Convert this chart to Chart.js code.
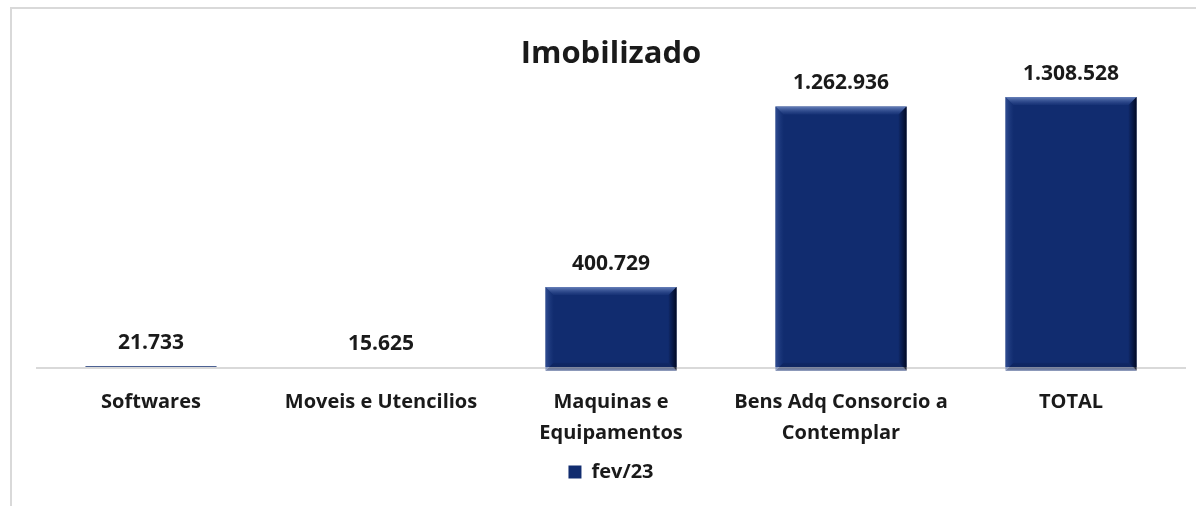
<!DOCTYPE html>
<html lang="pt-BR">
<head>
    <meta charset="UTF-8">
    <title>Imobilizado</title>
    <script src="https://cdn.jsdelivr.net/npm/chart.js"></script>
    <style>
        html, body { margin: 0; padding: 0; overflow: hidden; background: #fff; }
        #frame {
            position: absolute; left: 10px; top: 7px;
            width: 1400px; height: 700px;
            border: 2px solid #d9d9d9;
        }
        #wrap { position: absolute; left: 0; top: 0; width: 1196px; height: 506px; }
    </style>
</head>
<body>
    <div id="frame"></div>
    <div id="wrap"><canvas id="chart"></canvas></div>

    <script>
        // data
        const categories = [
            'Softwares',
            'Moveis e Utencilios',
            ['Maquinas e', 'Equipamentos'],
            ['Bens Adq Consorcio a', 'Contemplar'],
            'TOTAL'
        ];
        const seriesName = 'fev/23';
        const values = [21733, 15625, 400729, 1262936, 1308528];

        const barColor = '#112c6f';
        const fontFamily = '"Open Sans", "Noto Sans", sans-serif';

        function fmt(v) {
            return String(v).replace(/\B(?=(\d{3})+(?!\d))/g, '.');
        }

        // value labels above bars
        const valueLabels = {
            id: 'valueLabels',
            afterDatasetsDraw(chart) {
                const ctx = chart.ctx;
                const meta = chart.getDatasetMeta(0);
                ctx.save();
                ctx.font = 'bold 21px ' + fontFamily;
                ctx.fillStyle = '#1a1a1a';
                ctx.textAlign = 'center';
                ctx.textBaseline = 'middle';
                meta.data.forEach((bar, i) => {
                    const top = Math.min(bar.y, bar.base);
                    ctx.fillText(fmt(chart.data.datasets[0].data[i]), bar.x, top - 23);
                });
                ctx.restore();
            }
        };

        // axis line under the bars, spanning the category slots
        const baseLine = {
            id: 'baseLine',
            beforeDatasetsDraw(chart) {
                const { ctx, chartArea } = chart;
                const pts = chart.getDatasetMeta(0).data;
                const half = (pts[1].x - pts[0].x) / 2;
                ctx.save();
                ctx.strokeStyle = '#d9d9d9';
                ctx.lineWidth = 2;
                ctx.beginPath();
                ctx.moveTo(pts[0].x - half, chartArea.bottom + 1);
                ctx.lineTo(pts[pts.length - 1].x + half, chartArea.bottom + 1);
                ctx.stroke();
                ctx.restore();
            }
        };

        // simple bevel look on the bars
        const bevel = {
            id: 'bevel',
            afterDatasetDraw(chart) {
                const ctx = chart.ctx;
                const meta = chart.getDatasetMeta(0);
                ctx.save();
                meta.data.forEach(bar => {
                    const l = bar.x - bar.width / 2, r = bar.x + bar.width / 2;
                    const t = bar.y, b = bar.base;
                    const h = b - t;
                    if (h < 20) return;
                    const s = 8;
                    // top
                    let g = ctx.createLinearGradient(0, t, 0, t + s);
                    g.addColorStop(0, 'rgba(120,145,200,0.85)');
                    g.addColorStop(1, 'rgba(60,90,160,0.15)');
                    ctx.fillStyle = g;
                    ctx.beginPath();
                    ctx.moveTo(l, t); ctx.lineTo(r, t); ctx.lineTo(r - s, t + s); ctx.lineTo(l + s, t + s);
                    ctx.closePath(); ctx.fill();
                    // left
                    g = ctx.createLinearGradient(l, 0, l + s, 0);
                    g.addColorStop(0, 'rgba(70,100,170,0.6)');
                    g.addColorStop(1, 'rgba(40,70,140,0.05)');
                    ctx.fillStyle = g;
                    ctx.beginPath();
                    ctx.moveTo(l, t); ctx.lineTo(l + s, t + s); ctx.lineTo(l + s, b - s); ctx.lineTo(l, b);
                    ctx.closePath(); ctx.fill();
                    // right
                    g = ctx.createLinearGradient(r - s, 0, r, 0);
                    g.addColorStop(0, 'rgba(0,10,40,0.1)');
                    g.addColorStop(1, 'rgba(0,5,25,0.9)');
                    ctx.fillStyle = g;
                    ctx.beginPath();
                    ctx.moveTo(r, t); ctx.lineTo(r, b); ctx.lineTo(r - s, b - s); ctx.lineTo(r - s, t + s);
                    ctx.closePath(); ctx.fill();
                    // bottom
                    g = ctx.createLinearGradient(0, b - s, 0, b);
                    g.addColorStop(0, 'rgba(0,10,40,0.1)');
                    g.addColorStop(1, 'rgba(30,55,120,0.7)');
                    ctx.fillStyle = g;
                    ctx.beginPath();
                    ctx.moveTo(l, b); ctx.lineTo(r, b); ctx.lineTo(r - s, b - s); ctx.lineTo(l + s, b - s);
                    ctx.closePath(); ctx.fill();
                });
                ctx.restore();
            }
        };

        const ctx = document.getElementById('chart').getContext('2d');
        new Chart(ctx, {
            type: 'bar',
            data: {
                labels: categories,
                datasets: [{
                    label: seriesName,
                    data: values,
                    backgroundColor: barColor,
                    borderWidth: 0,
                    categoryPercentage: 1,
                    barPercentage: 0.57
                }]
            },
            options: {
                responsive: true,
                maintainAspectRatio: false,
                animation: false,
                layout: { padding: { left: 36, right: 10, bottom: 14 } },
                scales: {
                    x: {
                        grid: { display: false },
                        border: { display: false },
                        ticks: {
                            color: '#1a1a1a',
                            font: { family: fontFamily, size: 20, weight: 'bold', lineHeight: 1.55 },
                            maxRotation: 0,
                            autoSkip: false,
                            padding: 12
                        }
                    },
                    y: {
                        display: false,
                        min: 18000,
                        max: 1398000
                    }
                },
                plugins: {
                    title: {
                        display: true,
                        text: 'Imobilizado',
                        color: '#1a1a1a',
                        font: { family: fontFamily, size: 31, weight: 'bold' },
                        padding: { top: 36, bottom: 5 }
                    },
                    legend: {
                        position: 'bottom',
                        labels: {
                            color: '#1a1a1a',
                            boxWidth: 13,
                            boxHeight: 13,
                            padding: 1,
                            font: { family: fontFamily, size: 20, weight: 'bold' }
                        }
                    },
                    tooltip: { enabled: false }
                }
            },
            plugins: [baseLine, bevel, valueLabels]
        });
    </script>
</body>
</html>
